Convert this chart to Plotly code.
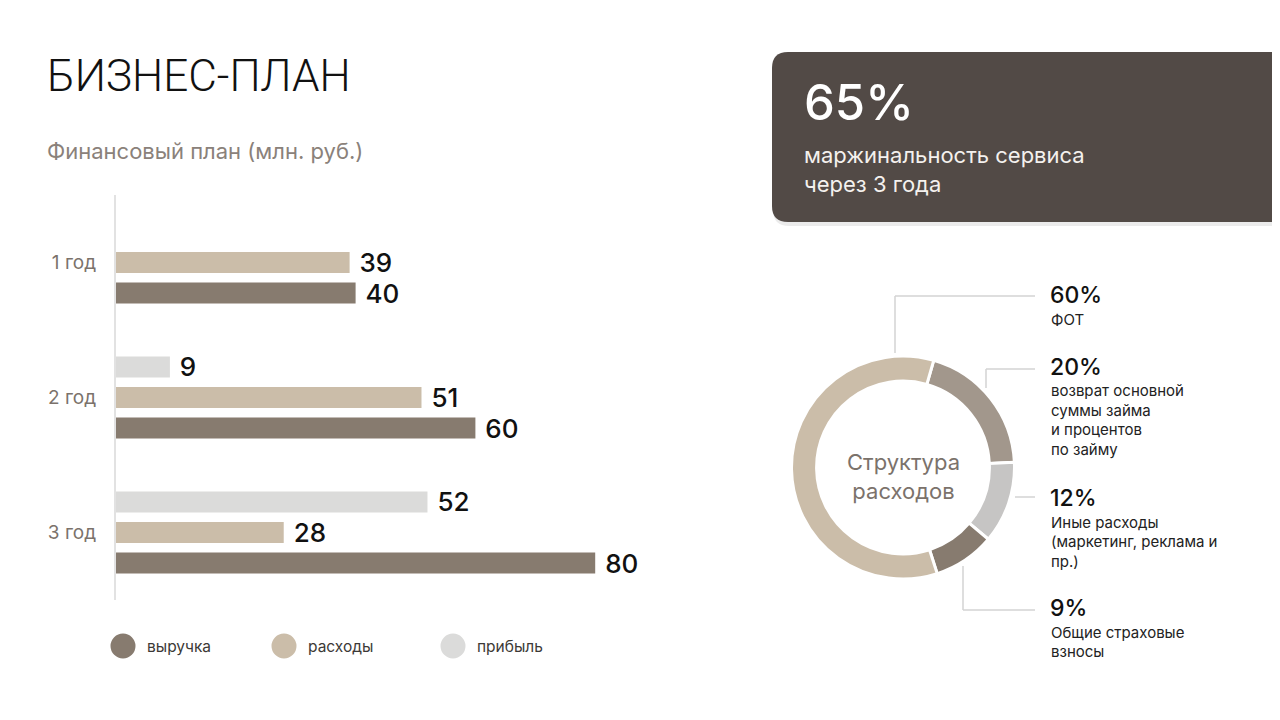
import plotly.graph_objects as go

# ---------------- data ----------------
years = ["1 год", "2 год", "3 год"]
revenue = [40, 60, 80]
expenses = [39, 51, 28]
profit = [None, 9, 52]

series_names = ["выручка", "расходы", "прибыль"]
series_colors = ["#877B6F", "#CBBDA9", "#DBDBDA"]

cost_labels = ["возврат основной суммы займа и процентов по займу",
               "Иные расходы (маркетинг, реклама и пр.)",
               "Общие страховые взносы",
               "ФОТ"]
cost_shares = [20, 12, 9, 60]
cost_colors = ["#A2978C", "#C6C5C4", "#877B6F", "#CBBDA9"]

# the page body has an 8px margin, so the figure is sized to fill the rest
OFF = 8
W, H = 1280 - OFF, 720 - OFF
FONT = "Inter"


def px(x):
    return (x - OFF) / W


def py(y):
    return 1 - (y - OFF) / H


fig = go.Figure()

# ---------------- bar chart ----------------
for name, vals, col in zip(series_names, [revenue, expenses, profit], series_colors):
    fig.add_trace(go.Bar(
        y=years, x=vals, name=name, orientation="h",
        marker=dict(color=col, line=dict(width=0)),
        texttemplate="\u00a0%{x}", textposition="outside",
        textfont=dict(family=FONT, size=26, color="#111111", weight=500),
        constraintext="none", cliponaxis=False,
        hoverinfo="skip", showlegend=False,
    ))

# ---------------- donut ----------------
fig.add_trace(go.Pie(
    labels=cost_labels, values=cost_shares, hole=0.775, sort=False,
    direction="clockwise", rotation=16,
    marker=dict(colors=cost_colors, line=dict(color="white", width=3)),
    textinfo="none", hoverinfo="skip", showlegend=False,
    domain=dict(x=[px(791), px(1015)], y=[py(579), py(356)]),
))

fig.update_layout(
    width=W, height=H,
    margin=dict(l=0, r=0, t=0, b=0),
    paper_bgcolor="white", plot_bgcolor="white",
    barmode="group", bargap=0.322, bargroupgap=0.31,
    xaxis=dict(domain=[px(116), px(116 + 599)], range=[0, 100],
               visible=False, fixedrange=True),
    yaxis=dict(domain=[py(600), py(195)], range=[-0.5, 2.5],
               categoryorder="array", categoryarray=years[::-1],
               showline=True, linecolor="#E2E2E2", linewidth=2,
               showgrid=False, zeroline=False, ticks="",
               ticklabelstandoff=14,
               tickfont=dict(family=FONT, size=19, color="#7B726B")),
    font=dict(family=FONT),
)

shapes = []
annotations = []

# dark card with rounded left corners
X0, X1 = px(772), px(1300)
Yt, Yb = py(52), py(222)
rx, ry = 16 / W, 16 / H
sX0, sYt, sYb = px(773), py(55), py(226)
shapes.append(dict(
    type="path", xref="paper", yref="paper",
    path=(f"M {sX0 + rx},{sYt} L {X1},{sYt} L {X1},{sYb} L {sX0 + rx},{sYb} "
          f"Q {sX0},{sYb} {sX0},{sYb + ry} L {sX0},{sYt - ry} Q {sX0},{sYt} {sX0 + rx},{sYt} Z"),
    fillcolor="rgba(0,0,0,0.08)", line=dict(width=0), layer="below"))
shapes.append(dict(
    type="path", xref="paper", yref="paper",
    path=(f"M {X0 + rx},{Yt} L {X1},{Yt} L {X1},{Yb} L {X0 + rx},{Yb} "
          f"Q {X0},{Yb} {X0},{Yb + ry} L {X0},{Yt - ry} Q {X0},{Yt} {X0 + rx},{Yt} Z"),
    fillcolor="#524A46", line=dict(width=0), layer="below"))

# connector lines for donut
LC = "#D3D3D3"
for pts in [[(895, 353), (895, 296), (1035, 296)],
            [(986, 388), (986, 369), (1035, 369)],
            [(1015, 497), (1035, 497)],
            [(963, 566), (963, 610), (1035, 610)]]:
    for (xa, ya), (xb, yb) in zip(pts[:-1], pts[1:]):
        shapes.append(dict(type="line", xref="paper", yref="paper",
                           x0=px(xa), y0=py(ya), x1=px(xb), y1=py(yb),
                           line=dict(color=LC, width=1.5)))

# legend swatches
for cx, col in zip([123, 284, 453], series_colors):
    shapes.append(dict(type="circle", xref="paper", yref="paper",
                       x0=px(cx - 12.5), x1=px(cx + 12.5),
                       y0=py(646 + 12.5), y1=py(646 - 12.5),
                       fillcolor=col, line=dict(width=0)))
for tx, name in zip([145, 306, 475], series_names):
    annotations.append(dict(x=px(tx), y=py(646), xref="paper", yref="paper",
                            text=name, showarrow=False, xanchor="left", yanchor="middle",
                            font=dict(family=FONT, size=15.5, color="#3C3936")))


def txt(x, y, text, size, color, family=FONT, xanchor="left", weight=None):
    f = dict(family=family, size=size, color=color)
    if weight:
        f["weight"] = weight
    annotations.append(dict(x=px(x), y=py(y), xref="paper", yref="paper",
                            text=text, showarrow=False, xanchor=xanchor,
                            yanchor="middle", font=f))


# title + subtitle
txt(45, 76, "БИЗНЕС-ПЛАН", 44, "#111111", family="Roboto", weight=300)
txt(45, 151, "Финансовый план (млн. руб.)", 22, "#8A817A")

# card text
txt(802, 103, "65%", 49, "white", weight=500)
txt(802, 155, "маржинальность сервиса", 22, "#F4F1EE")
txt(802, 184, "через 3 года", 22, "#F4F1EE")

# donut centre
annotations.append(dict(x=px(903), y=py(476), xref="paper", yref="paper",
                        text="Структура<br>расходов", showarrow=False,
                        xanchor="center", yanchor="middle", align="center",
                        font=dict(family=FONT, size=22, color="#7B726B")))

# donut side labels
pct_texts = ["60%", "20%", "12%", "9%"]
pct_y = [295, 367, 498, 608]
desc_lines = [["ФОТ"],
              ["возврат основной", "суммы займа", "и процентов", "по займу"],
              ["Иные расходы", "(маркетинг, реклама и", "пр.)"],
              ["Общие страховые", "взносы"]]
for p, yy, lines in zip(pct_texts, pct_y, desc_lines):
    txt(1048, yy, p, 23, "#111111", weight=500)
    for i, line in enumerate(lines):
        txt(1049, yy + 24 + i * 19.5, line, 15, "#222222")

fig.update_layout(shapes=shapes, annotations=annotations)

fig.write_html("out.html")
